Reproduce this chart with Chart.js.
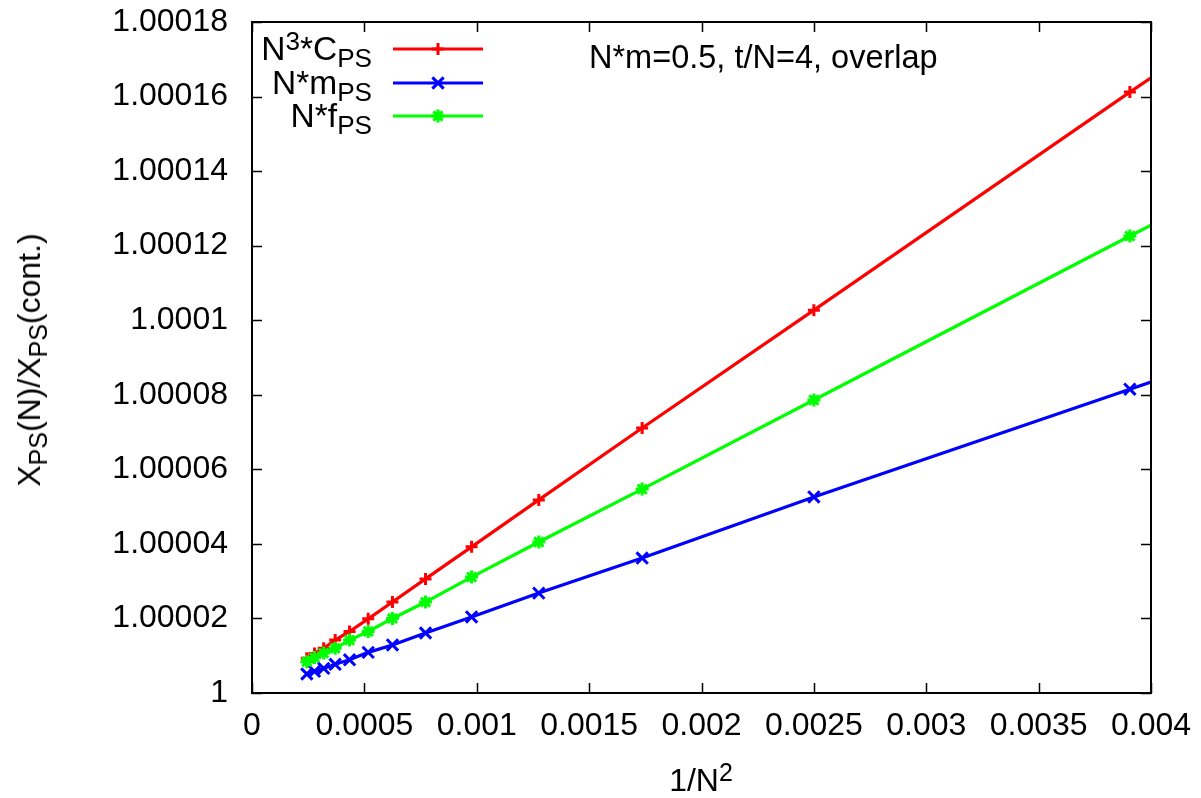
<!DOCTYPE html>
<html>
<head>
<meta charset="utf-8">
<title>X_PS(N)/X_PS(cont.) vs 1/N^2</title>
<script src="https://cdn.jsdelivr.net/npm/chart.js@4.4.1/dist/chart.umd.min.js"></script>
<style>
  html, body { margin: 0; padding: 0; background: #fff; }
  #wrap { position: relative; width: 1201px; height: 798px; overflow: hidden;
          font-family: "Liberation Sans", Arial, Helvetica, sans-serif; color: #000; }
  canvas { position: absolute; left: 0; top: 0; }
  .txt { position: absolute; font-size: 32px; line-height: 32px; white-space: nowrap; }
  .sub { font-size: 0.78em; position: relative; top: 7px; }
  .sup { font-size: 0.78em; position: relative; top: -10px; }
  .key { right: 829px; text-align: right; font-size: 33.5px; line-height: 32px; }
  #ytitle { left: 30px; top: 360px; transform: translate(-50%, -50%) rotate(-90deg); }
  #xtitle { left: 701px; top: 764px; transform: translateX(-50%); }
  #note { left: 589px; top: 41px; font-size: 32.5px; }
</style>
</head>
<body>
<div id="wrap">
  <canvas id="c" width="1201" height="798"></canvas>
  <div class="txt key" style="top:33px">N<span class="sup">3</span>*C<span class="sub">PS</span></div>
  <div class="txt key" style="top:67px">N*m<span class="sub">PS</span></div>
  <div class="txt key" style="top:100px">N*f<span class="sub">PS</span></div>
  <div class="txt" id="note">N*m=0.5, t/N=4, overlap</div>
  <div class="txt" id="ytitle">X<span class="sub">PS</span>(N)/X<span class="sub">PS</span>(cont.)</div>
  <div class="txt" id="xtitle">1/N<span class="sup">2</span></div>
</div>
<script>
// Axis ticks
const xTickValues = [0, 0.0005, 0.001, 0.0015, 0.002, 0.0025, 0.003, 0.0035, 0.004];
const xTickLabels = ['0', '0.0005', '0.001', '0.0015', '0.002', '0.0025', '0.003', '0.0035', '0.004'];
const yTickValues = [1, 1.00002, 1.00004, 1.00006, 1.00008, 1.0001, 1.00012, 1.00014, 1.00016, 1.00018];
const yTickLabels = ['1', '1.00002', '1.00004', '1.00006', '1.00008', '1.0001', '1.00012', '1.00014', '1.00016', '1.00018'];

// Lattice sizes N = 16, 20, ..., 64 and their 1/N^2
const latticeN = [16, 20, 24, 28, 32, 36, 40, 44, 48, 52, 56, 60, 64];
const invN2 = [0.003906, 0.0025, 0.001736, 0.001276, 0.000977, 0.000772, 0.000625,
               0.000517, 0.000434, 0.00037, 0.000319, 0.000278, 0.000244];

// Ratios to the continuum value
const ratioC = [1.0001612, 1.0001027, 1.0000711, 1.0000518, 1.0000392, 1.0000306, 1.0000244,
                1.0000199, 1.0000165, 1.0000142, 1.0000120, 1.0000106, 1.0000093];
const ratioM = [1.0000815, 1.0000526, 1.0000362, 1.0000268, 1.0000204, 1.0000161, 1.0000129,
                1.0000109, 1.0000089, 1.0000077, 1.0000066, 1.0000058, 1.0000051];
const ratioF = [1.0001226, 1.0000786, 1.0000547, 1.0000405, 1.0000311, 1.0000244, 1.0000200,
                1.0000165, 1.0000142, 1.0000120, 1.0000107, 1.0000095, 1.0000084];

// Where each curve leaves the plot at the right border
const edgeX = 0.004;
const edgeC = 1.0001650;
const edgeM = 1.0000834;
const edgeF = 1.0001255;

const RED = '#ff0000', BLUE = '#0000ff', GREEN = '#00ff00';

function makeSeries(label, vals, endVal, color, style, radius, order) {
  const pts = [{ x: edgeX, y: endVal }].concat(invN2.map((x, i) => ({ x: x, y: vals[i] })));
  return {
    label: label,
    data: pts,
    borderColor: color,
    backgroundColor: color,
    borderWidth: 3.2,
    pointStyle: style,
    pointRadius: ctx => (ctx.dataIndex === 0 ? 0 : radius),
    pointHoverRadius: 0,
    pointBorderWidth: 3,
    pointBorderColor: color,
    tension: 0,
    fill: false,
    order: order
  };
}

// Markers: '+', 'x', '*'
function drawMarker(ctx, style, x, y, r) {
  ctx.beginPath();
  if (style === 'cross' || style === 'star') {
    ctx.moveTo(x - r, y); ctx.lineTo(x + r, y);
    ctx.moveTo(x, y - r); ctx.lineTo(x, y + r);
  }
  if (style === 'crossRot' || style === 'star') {
    const d = r * Math.SQRT1_2;
    ctx.moveTo(x - d, y - d); ctx.lineTo(x + d, y + d);
    ctx.moveTo(x - d, y + d); ctx.lineTo(x + d, y - d);
  }
  ctx.stroke();
}

const keyEntries = [
  { color: RED, style: 'cross', r: 6 },
  { color: BLUE, style: 'crossRot', r: 8 },
  { color: GREEN, style: 'star', r: 6.5 }
];

// Border box, inward ticks on all four sides, and key samples
const framePlugin = {
  id: 'frame',
  afterDatasetsDraw(chart) {
    const ctx = chart.ctx, a = chart.chartArea;
    const xs = chart.scales.x, ys = chart.scales.y;
    ctx.save();
    ctx.strokeStyle = '#000';
    ctx.lineWidth = 1.5;
    ctx.beginPath();
    yTickValues.forEach(v => {
      const p = Math.round(ys.getPixelForValue(v)) + 0.5;
      ctx.moveTo(a.left, p); ctx.lineTo(a.left + 10, p);
      ctx.moveTo(a.right, p); ctx.lineTo(a.right - 10, p);
    });
    xTickValues.forEach(v => {
      const p = Math.round(xs.getPixelForValue(v)) + 0.5;
      ctx.moveTo(p, a.bottom); ctx.lineTo(p, a.bottom - 10);
      ctx.moveTo(p, a.top); ctx.lineTo(p, a.top + 10);
    });
    ctx.stroke();
    ctx.lineWidth = 2;
    ctx.strokeRect(a.left, a.top, a.right - a.left, a.bottom - a.top);

    // key samples
    const x0 = a.left + 141, x1 = a.left + 231, xm = a.left + 186;
    const rows = [a.top + 27, a.top + 61, a.top + 94];
    keyEntries.forEach((k, i) => {
      ctx.strokeStyle = k.color;
      ctx.lineWidth = 3.2;
      ctx.beginPath();
      ctx.moveTo(x0, rows[i]); ctx.lineTo(x1, rows[i]);
      ctx.stroke();
      ctx.lineWidth = 3;
      drawMarker(ctx, k.style, xm, rows[i], k.r);
    });
    ctx.restore();
  }
};

Chart.defaults.font.family = '"Liberation Sans", Arial, Helvetica, sans-serif';
Chart.defaults.font.size = 32;
Chart.defaults.color = '#000';

new Chart(document.getElementById('c'), {
  type: 'line',
  data: {
    datasets: [
      makeSeries('N^3*C_PS', ratioC, edgeC, RED, 'cross', 6, 3),
      makeSeries('N*m_PS', ratioM, edgeM, BLUE, 'crossRot', 8, 2),
      makeSeries('N*f_PS', ratioF, edgeF, GREEN, 'star', 6.5, 1)
    ]
  },
  options: {
    responsive: false,
    animation: false,
    devicePixelRatio: 1,
    layout: { padding: { left: 0, right: 50, top: 22, bottom: 0 } },
    plugins: { legend: { display: false }, tooltip: { enabled: false } },
    events: [],
    scales: {
      x: {
        type: 'linear',
        min: 0,
        max: 0.004,
        grid: { display: false, drawTicks: false },
        border: { display: false },
        afterBuildTicks: s => { s.ticks = xTickValues.map(v => ({ value: v })); },
        afterFit: s => {
          s.height = 105;
          s.paddingLeft = 0; s.paddingRight = 0;
        },
        ticks: {
          padding: 14,
          maxRotation: 0,
          autoSkip: false,
          callback: (v, i) => xTickLabels[i]
        }
      },
      y: {
        type: 'linear',
        min: 1,
        max: 1.00018,
        grid: { display: false, drawTicks: false },
        border: { display: false },
        afterBuildTicks: s => { s.ticks = yTickValues.map(v => ({ value: v })); },
        afterFit: s => {
          s.width = 252;
          s.paddingTop = 0; s.paddingBottom = 0;
        },
        ticks: {
          padding: 24,
          autoSkip: false,
          callback: (v, i) => yTickLabels[i]
        }
      }
    }
  },
  plugins: [framePlugin]
});
</script>
</body>
</html>
